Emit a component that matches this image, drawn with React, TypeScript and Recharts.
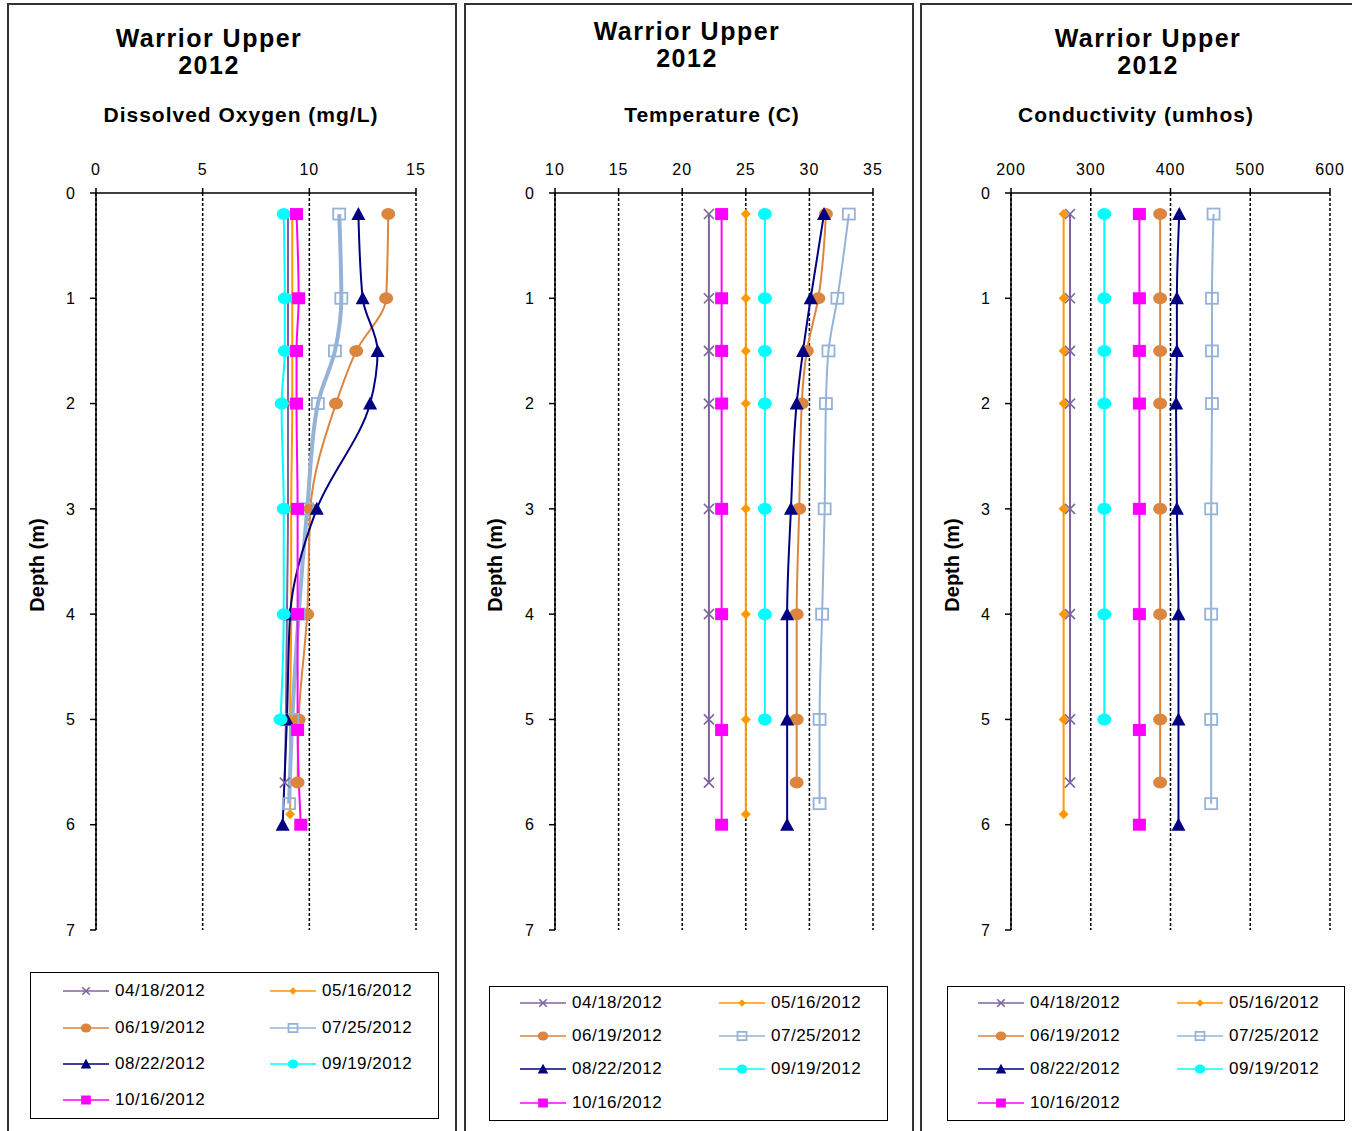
import React from 'react';
import { LineChart, Line, XAxis, YAxis, CartesianGrid } from 'recharts';

const FONT = '"Liberation Sans", Arial, Helvetica, sans-serif';

const dates = ['04/18/2012', '05/16/2012', '06/19/2012', '07/25/2012', '08/22/2012', '09/19/2012', '10/16/2012'];
const colors = ['#7E649E', '#FF9900', '#DC853E', '#95B3D7', '#000080', '#00FFFF', '#FF00FF'];
const shapes = ['x', 'diamond', 'circle', 'openSquare', 'triangle', 'circle', 'square'];

// sampling depths (m) for each survey date
const depths = [
  [0.2, 1, 1.5, 2, 3, 4, 5, 5.6],
  [0.2, 1, 1.5, 2, 3, 4, 5, 5.9],
  [0.2, 1, 1.5, 2, 3, 4, 5, 5.6],
  [0.2, 1, 1.5, 2, 3, 4, 5, 5.8],
  [0.2, 1, 1.5, 2, 3, 4, 5, 6],
  [0.2, 1, 1.5, 2, 3, 4, 5],
  [0.2, 1, 1.5, 2, 3, 4, 5.1, 6],
];

// dissolved oxygen, mg/L
const oxygen = [
  [9.0, 9.0, 9.0, 9.0, 9.0, 8.95, 8.9, 8.85],
  [9.2, 9.2, 9.2, 9.2, 9.15, 9.15, 9.1, 9.1],
  [13.7, 13.6, 12.2, 11.25, 10.05, 9.9, 9.5, 9.45],
  [11.4, 11.5, 11.2, 10.4, 9.9, 9.5, 9.2, 9.05],
  [12.3, 12.5, 13.2, 12.85, 10.35, 9.1, 8.95, 8.75],
  [8.8, 8.85, 8.85, 8.7, 8.8, 8.8, 8.65],
  [9.4, 9.5, 9.4, 9.4, 9.45, 9.45, 9.45, 9.6],
];

// water temperature, C
const temperature = [
  [22.1, 22.1, 22.1, 22.1, 22.1, 22.1, 22.1, 22.1],
  [25.0, 25.0, 25.0, 25.0, 25.0, 25.0, 25.0, 25.0],
  [31.3, 30.7, 29.8, 29.4, 29.2, 29.0, 29.0, 29.0],
  [33.1, 32.2, 31.5, 31.3, 31.2, 31.0, 30.8, 30.8],
  [31.15, 30.1, 29.5, 29.0, 28.55, 28.25, 28.25, 28.25],
  [26.5, 26.5, 26.5, 26.5, 26.5, 26.5, 26.5],
  [23.1, 23.1, 23.1, 23.1, 23.1, 23.1, 23.1, 23.1],
];

// specific conductance, umhos
const conductivity = [
  [274, 274, 274, 274, 274, 274, 274, 274],
  [266, 266, 266, 266, 266, 266, 266, 266],
  [387, 387, 387, 387, 387, 387, 387, 387],
  [454, 452, 452, 452, 451, 451, 451, 451],
  [411, 408, 408, 407, 408, 410, 410, 410],
  [317, 317, 317, 317, 317, 317, 317],
  [361, 361, 361, 361, 361, 361, 361, 361],
];

const depthTicks = [0, 1, 2, 3, 4, 5, 6, 7];
const oxygenTicks = [0, 5, 10, 15];
const temperatureTicks = [10, 15, 20, 25, 30, 35];
const conductivityTicks = [200, 300, 400, 500, 600];

function marker(shape: string, color: string, cx: number, cy: number, s = 1, key?: string) {
  switch (shape) {
    case 'x':
      return (
        <g key={key} stroke={color} strokeWidth={1.6}>
          <line x1={cx - 5 * s} y1={cy - 5 * s} x2={cx + 5 * s} y2={cy + 5 * s} />
          <line x1={cx - 5 * s} y1={cy + 5 * s} x2={cx + 5 * s} y2={cy - 5 * s} />
        </g>
      );
    case 'diamond':
      return (
        <polygon key={key} fill={color}
          points={`${cx},${cy - 5 * s} ${cx + 5 * s},${cy} ${cx},${cy + 5 * s} ${cx - 5 * s},${cy}`} />
      );
    case 'circle':
      return <ellipse key={key} cx={cx} cy={cy} rx={7 * s} ry={6 * s} fill={color} />;
    case 'openSquare':
      return (
        <rect key={key} x={cx - 6 * s} y={cy - 5.5 * s} width={12 * s} height={11 * s}
          fill="none" stroke={color} strokeWidth={1.8} />
      );
    case 'triangle':
      return (
        <polygon key={key} fill={color}
          points={`${cx},${cy - 7 * s} ${cx + 7 * s},${cy + 6 * s} ${cx - 7 * s},${cy + 6 * s}`} />
      );
    default:
      return <rect key={key} x={cx - 6.5 * s} y={cy - 6 * s} width={13 * s} height={12 * s} fill={color} />;
  }
}

interface ChartProps {
  left: number;
  width: number;
  plotLeft: number;
  plotRight: number;
  domain: [number, number];
  ticks: number[];
  values: number[][];
  thick?: number;
}

const ProfileChart = ({ left, width, plotLeft, plotRight, domain, ticks, values, thick }: ChartProps) => {
  const series = values.map((vals, i) => vals.map((v, j) => ({ d: depths[i][j], v })));
  const tickStyle = { fill: '#000', fontSize: 16, fontFamily: FONT, letterSpacing: 1 };
  return (
    <LineChart
      layout="vertical"
      width={width}
      height={960}
      margin={{ top: 153, bottom: 30, left: plotLeft - left - 40, right: left + width - plotRight }}
      style={{ position: 'absolute', left, top: 0 }}
    >
      <CartesianGrid horizontal={false} stroke="#000" strokeDasharray="3 2" strokeWidth={1.5} />
      <XAxis
        type="number"
        orientation="top"
        domain={domain}
        ticks={ticks}
        allowDataOverflow
        height={40}
        tickSize={5}
        tickMargin={13}
        tick={tickStyle}
        axisLine={{ stroke: '#000', strokeWidth: 1.5 }}
        tickLine={{ stroke: '#000', strokeWidth: 1.5 }}
      />
      <YAxis
        type="number"
        dataKey="d"
        domain={[0, 7]}
        ticks={depthTicks}
        allowDataOverflow
        width={40}
        tickSize={6}
        tickMargin={14}
        tick={tickStyle}
        axisLine={{ stroke: '#000', strokeWidth: 1.5 }}
        tickLine={{ stroke: '#000', strokeWidth: 1.5 }}
      />
      {series.map((data, i) => (
        <Line
          key={dates[i]}
          data={data}
          dataKey="v"
          type="monotone"
          stroke={colors[i]}
          strokeWidth={thick === i ? 4 : 2}
          isAnimationActive={false}
          activeDot={false}
          dot={(p: any) => marker(shapes[i], colors[i], p.cx, p.cy, 1, `dot-${i}-${p.index}`)}
        />
      ))}
    </LineChart>
  );
};

interface LegendProps {
  box: { left: number; top: number; width: number; height: number };
  rows: number[];
  cols: number[];
}

const LegendBox = ({ box, rows, cols }: LegendProps) => (
  <>
    <div
      style={{
        position: 'absolute',
        left: box.left,
        top: box.top,
        width: box.width,
        height: box.height,
        border: '1.5px solid #000',
        boxSizing: 'border-box',
      }}
    />
    {dates.map((date, i) => {
      const x = cols[i % 2];
      const y = rows[Math.floor(i / 2)];
      return (
        <div key={date} style={{ position: 'absolute', left: x, top: y - 10, height: 20, display: 'flex', alignItems: 'center' }}>
          <svg width={48} height={20}>
            <line x1={0} y1={10} x2={46} y2={10} stroke={colors[i]} strokeWidth={1.5} />
            {marker(shapes[i], colors[i], 23, 10, 0.75)}
          </svg>
          <span style={{ fontSize: 17, letterSpacing: 0.5, marginLeft: 4, color: '#000' }}>{date}</span>
        </div>
      );
    })}
  </>
);

const Titles = ({ cx, top, sub, subCx, depthX }: { cx: number; top: number; sub: string; subCx: number; depthX: number }) => (
  <>
    <div
      style={{
        position: 'absolute', left: cx - 150, width: 300, top, textAlign: 'center',
        fontSize: 25, fontWeight: 'bold', lineHeight: '27px', letterSpacing: 1.5,
      }}
    >
      Warrior Upper
      <br />
      2012
    </div>
    <div
      style={{
        position: 'absolute', left: subCx - 200, width: 400, top: 103, textAlign: 'center',
        fontSize: 21, fontWeight: 'bold', lineHeight: '24px', letterSpacing: 1,
      }}
    >
      {sub}
    </div>
    <div
      style={{
        position: 'absolute', left: depthX - 60, top: 554, width: 120, textAlign: 'center',
        fontSize: 20, fontWeight: 'bold', lineHeight: '22px', transform: 'rotate(-90deg)',
      }}
    >
      Depth (m)
    </div>
  </>
);

const panelBorder = (left: number, width: number) => ({
  position: 'absolute' as const,
  left,
  top: 3,
  width,
  height: 1140,
  border: '2px solid #333',
  boxSizing: 'border-box' as const,
});

export default function App() {
  return (
    <div
      style={{
        position: 'absolute', left: 0, top: 0, width: 1352, height: 1131,
        overflow: 'hidden', background: '#fff', fontFamily: FONT, color: '#000',
      }}
    >
      <div style={panelBorder(7, 450)} />
      <div style={panelBorder(464, 450)} />
      <div style={panelBorder(920, 440)} />

      <Titles cx={209} top={25} sub="Dissolved Oxygen (mg/L)" subCx={241} depthX={37} />
      <Titles cx={687} top={18} sub="Temperature (C)" subCx={712} depthX={495} />
      <Titles cx={1148} top={25} sub="Conductivity (umhos)" subCx={1136} depthX={952} />

      <ProfileChart left={0} width={456} plotLeft={96} plotRight={416} domain={[0, 15]} ticks={oxygenTicks} values={oxygen} thick={3} />
      <ProfileChart left={465} width={448} plotLeft={555} plotRight={873} domain={[10, 35]} ticks={temperatureTicks} values={temperature} />
      <ProfileChart left={921} width={431} plotLeft={1011} plotRight={1330} domain={[200, 600]} ticks={conductivityTicks} values={conductivity} />

      <LegendBox box={{ left: 30, top: 972, width: 409, height: 147 }} rows={[991, 1028, 1064, 1100]} cols={[63, 270]} />
      <LegendBox box={{ left: 489, top: 986, width: 399, height: 135 }} rows={[1003, 1036, 1069, 1103]} cols={[520, 719]} />
      <LegendBox box={{ left: 947, top: 986, width: 398, height: 135 }} rows={[1003, 1036, 1069, 1103]} cols={[978, 1177]} />
    </div>
  );
}
